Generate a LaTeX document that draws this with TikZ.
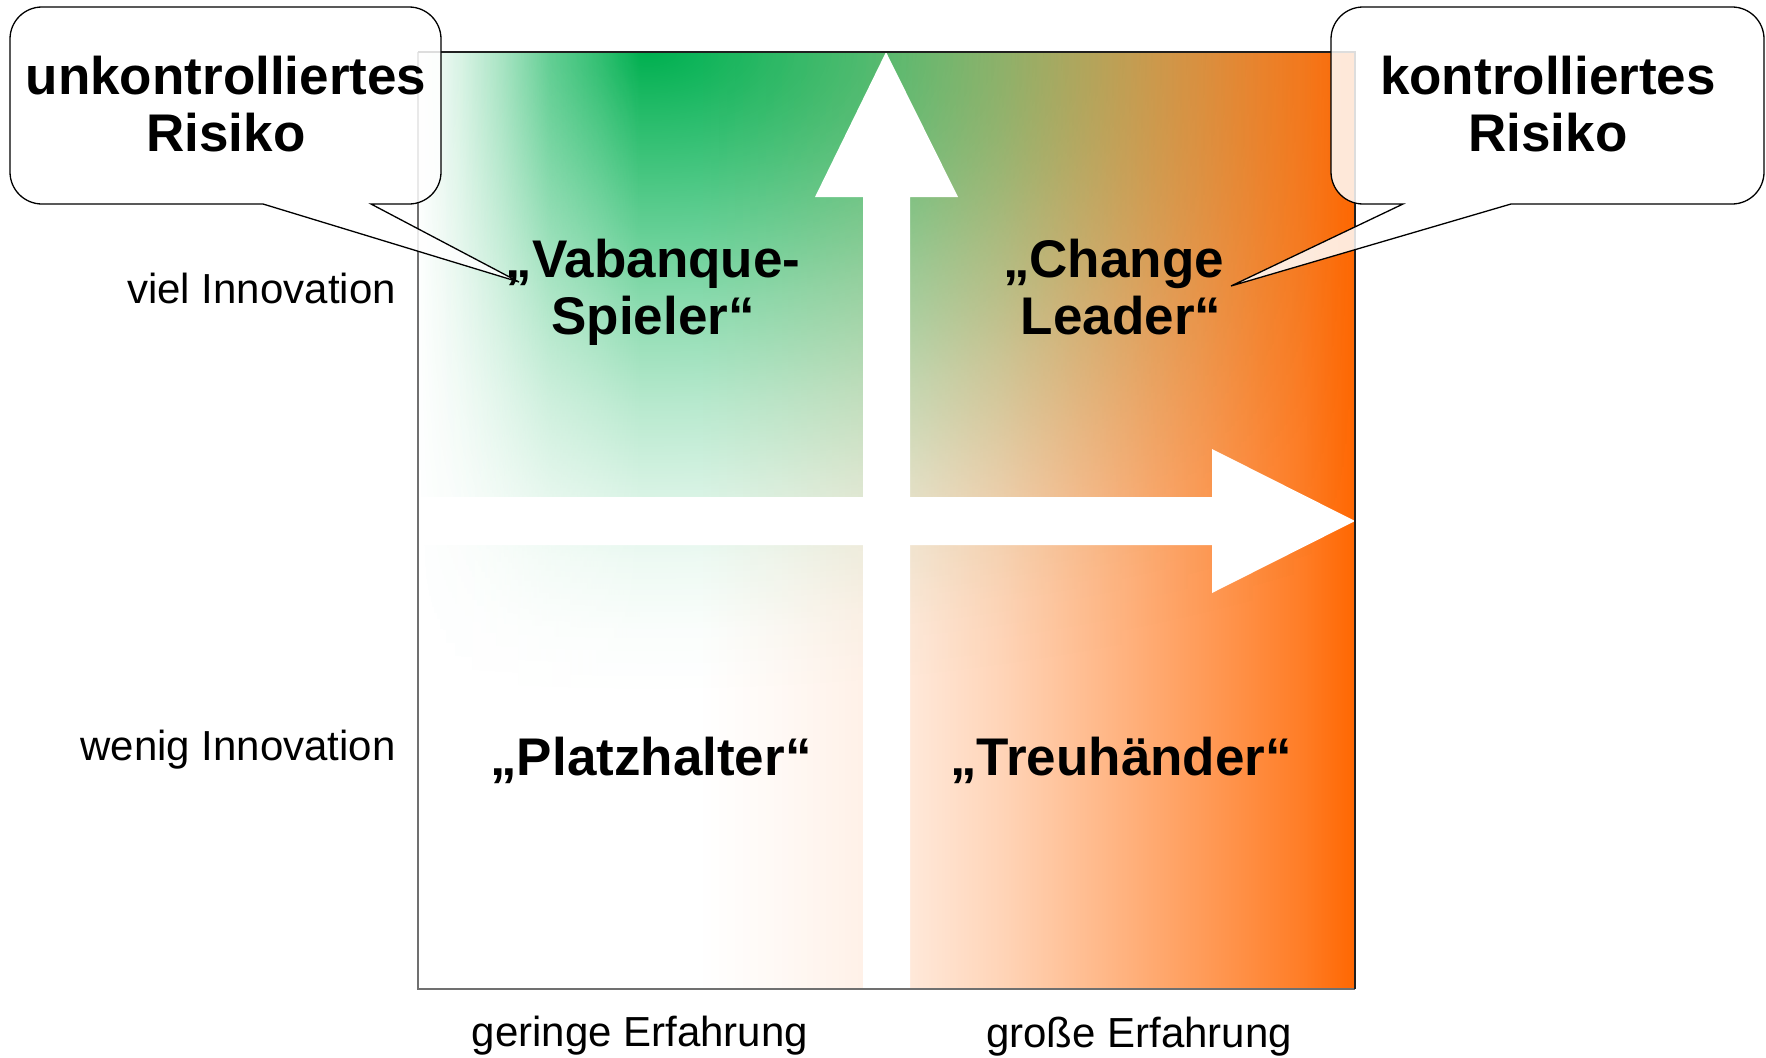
\documentclass[tikz,border=0pt]{standalone}
\usepackage{fontspec}
\setmainfont{Liberation Sans}
\usetikzlibrary{fadings}
\definecolor{pgreen}{HTML}{00B050}
\definecolor{porange}{HTML}{FF6600}
\definecolor{edgegray}{HTML}{707070}
\definecolor{edgedark}{HTML}{202020}
% masks (white = opaque, black = transparent)
\pgfdeclareradialshading{greenmaskshade}{\pgfpointorigin}{color(0bp)=(white); color(2bp)=(white!85!black); color(4.6bp)=(white!67!black); color(7.8bp)=(white!46!black); color(11bp)=(white!28!black); color(13.6bp)=(white!16!black); color(15.8bp)=(white!7!black); color(18bp)=(white!2!black); color(20bp)=(black); color(50bp)=(black)}
\pgfdeclarefading{greenmask}{\pgfuseshading{greenmaskshade}}
\pgfdeclarehorizontalshading{whitemaskshade}{100bp}{color(0bp)=(white); color(25bp)=(white); color(34.5bp)=(white!81!black); color(43.5bp)=(white!60!black); color(54.7bp)=(white!31!black); color(66bp)=(white!15!black); color(75bp)=(black); color(100bp)=(black)}
\pgfdeclarefading{whitemask}{\pgfuseshading{whitemaskshade}}
\pgfdeclarehorizontalshading{orangemaskshade}{100bp}{color(0bp)=(black); color(40bp)=(black); color(44.3bp)=(white!4!black); color(48.6bp)=(white!9!black); color(51.3bp)=(white!15!black); color(56.1bp)=(white!28!black); color(61.4bp)=(white!46!black); color(66.7bp)=(white!65!black); color(72.1bp)=(white!85!black); color(75bp)=(white); color(100bp)=(white)}
\pgfdeclarefading{orangemask}{\pgfuseshading{orangemaskshade}}
\begin{document}
\begin{tikzpicture}[x=1pt,y=-1pt,
  bigbold/.style={font=\fontsize{53}{57}\selectfont\bfseries, align=center, inner sep=0pt},
  axislabel/.style={font=\fontsize{42}{46}\selectfont, inner sep=0pt},
  callout/.style={draw=black, line width=1.3pt, fill=white, fill opacity=0.85},
  arrowshape/.style={fill=white, draw=none}]
\useasboundingbox (0,0) rectangle (1766,1057);
% ---- coloured square ----
\begin{scope}
  \clip (418,52) rectangle (1355,989);
  \fill[pgreen, path fading=greenmask] (-977,-748) rectangle (2273,852);
\end{scope}
\fill[white, path fading=whitemask] (418,52) rectangle (640,989);
\fill[porange, path fading=orangemask] (418,52) rectangle (1355,989);
% ---- white axis arrows ----
\fill[arrowshape] (863,989) -- (863,197) -- (815,197) -- (886,52) -- (958,197) -- (910,197) -- (910,989) -- cycle;
\fill[arrowshape] (418,497) -- (1212,497) -- (1212,449) -- (1355,521) -- (1212,593) -- (1212,545) -- (418,545) -- cycle;
% ---- frame ----
\draw[edgegray, line width=1.3pt] (418,52) -- (418,989) -- (1355,989);
\draw[edgedark, line width=1.3pt] (418,52) -- (1355,52) -- (1355,989);
% ---- quadrant labels ----
\node[bigbold] (vab) at (653,292) {„Vabanque-\\Spieler“};
\node[bigbold] (chg) at (1121,287) {„Change\hspace*{0.28em}\\Leader“};
\node[bigbold, anchor=base] (plh) at (651,775) {„Platzhalter“};
\node[bigbold, anchor=base] (treu) at (1121,775) {„Treuhänder“};
% ---- axis labels ----
\node[axislabel, anchor=base east] (viel) at (396,303) {viel Innovation};
\node[axislabel, anchor=base east] (wenig) at (396,760) {wenig Innovation};
\node[axislabel, anchor=base] (gering) at (640,1046) {geringe Erfahrung};
\node[axislabel, anchor=base] (gross) at (1139,1047) {große Erfahrung};
% ---- callouts ----
\coordinate (ltip) at (519,282);
\coordinate (rtip) at (1231,286);
\draw[callout] (42,7) -- (409,7) arc[start angle=-90, end angle=0, radius=32]
  -- (441,172) arc[start angle=0, end angle=90, radius=32]
  -- (371,204) -- (ltip) -- (263,204)
  -- (42,204) arc[start angle=90, end angle=180, radius=32]
  -- (10,39) arc[start angle=180, end angle=270, radius=32] -- cycle;
\draw[callout] (1363,7) -- (1732,7) arc[start angle=-90, end angle=0, radius=32]
  -- (1764,172) arc[start angle=0, end angle=90, radius=32]
  -- (1511,204) -- (rtip) -- (1403,204)
  -- (1363,204) arc[start angle=90, end angle=180, radius=32]
  -- (1331,39) arc[start angle=180, end angle=270, radius=32] -- cycle;
\node[bigbold] (ltext) at (226,104.5) {unkontrolliertes\\Risiko};
\node[bigbold] (rtext) at (1548,104.5) {kontrolliertes\\Risiko};
\end{tikzpicture}
\end{document}
